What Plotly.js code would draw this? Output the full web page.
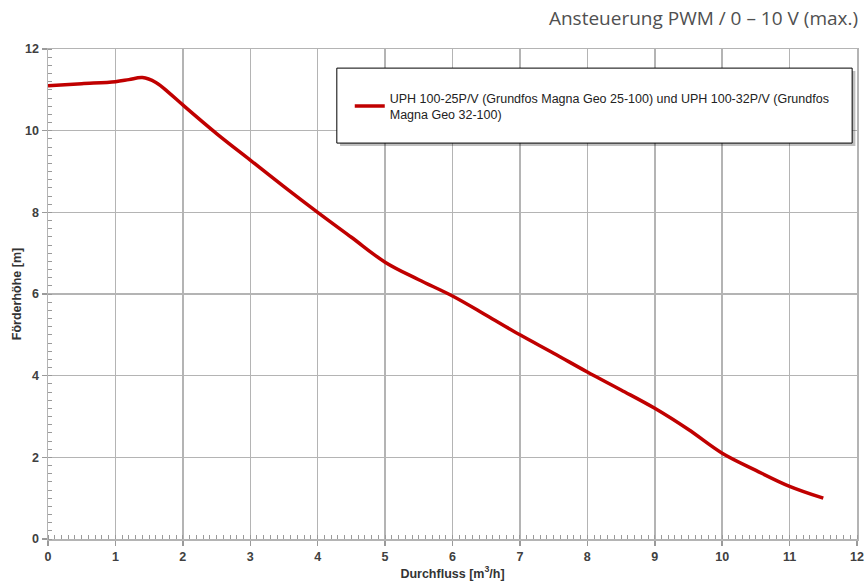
<!DOCTYPE html>
<html>
<head>
<meta charset="utf-8">
<script src="https://cdn.plot.ly/plotly-3.0.1.min.js"></script>
<style>html,body{margin:0;padding:0;background:#fff}#chart{width:865px;height:587px}</style>
</head>
<body>
<div id="chart"></div>
<script>
var flow = [0, 0.5, 1, 1.2, 1.4, 1.6, 1.8, 2, 2.5, 3, 3.5, 4, 4.5, 5, 5.5, 6, 6.5, 7, 7.5, 8, 8.5, 9, 9.5, 10, 10.5, 11, 11.5];
var head = [11.1, 11.15, 11.2, 11.25, 11.3, 11.18, 10.92, 10.63, 9.93, 9.28, 8.63, 8.0, 7.39, 6.78, 6.35, 5.95, 5.48, 5.0, 4.55, 4.09, 3.65, 3.2, 2.68, 2.1, 1.68, 1.29, 1.0];
var seriesName = 'UPH 100-25P/V (Grundfos Magna Geo 25-100) und UPH 100-32P/V (Grundfos<br>Magna Geo 32-100)';
var chartTitle = 'Ansteuerung PWM / 0 – 10 V (max.)';
var xTitle = 'Durchfluss [m<sup>3</sup>/h]';
var yTitle = 'Förderhöhe [m]';

var grid = '#b4b4b4';
var tickFont = {family: 'Liberation Sans, Arial, sans-serif', size: 12.5, color: '#404040', weight: 'bold'};
var axTitleFont = {family: 'Liberation Sans, Arial, sans-serif', size: 12.5, color: '#333', weight: 'bold'};

var trace = {
  x: flow, y: head, mode: 'lines', name: seriesName,
  line: {color: '#c00000', width: 3.5, shape: 'spline', smoothing: 1},
  showlegend: true
};

var layout = {
  width: 865, height: 587,
  margin: {l: 48, r: 8, t: 49, b: 48},
  paper_bgcolor: '#ffffff', plot_bgcolor: '#ffffff',
  title: {text: chartTitle, xref: 'container', x: 0.992, xanchor: 'right', yref: 'container', y: 0.969, yanchor: 'middle',
          font: {family: 'Open Sans, sans-serif', size: 19, color: '#505050'}},
  xaxis: {
    range: [0, 12], dtick: 1, tick0: 0, showgrid: true, gridcolor: grid, gridwidth: 1.5,
    showline: true, linecolor: grid, linewidth: 1.5, mirror: true, zeroline: false,
    ticks: 'outside', ticklen: 5, tickcolor: '#9a9a9a', tickwidth: 1.5,
    minor: {dtick: 0.1, ticks: 'inside', ticklen: 4, tickcolor: '#9a9a9a', tickwidth: 1, showgrid: false},
    tickfont: tickFont,
    title: {text: xTitle, font: axTitleFont, standoff: 6}
  },
  yaxis: {
    range: [0, 12], dtick: 2, tick0: 0, showgrid: true, gridcolor: grid, gridwidth: 1.5,
    showline: true, linecolor: grid, linewidth: 1.5, mirror: true, zeroline: false,
    ticks: 'outside', ticklen: 5, tickcolor: '#9a9a9a', tickwidth: 1.5,
    minor: {dtick: 0.2, ticks: 'inside', ticklen: 4, tickcolor: '#9a9a9a', tickwidth: 1, showgrid: false},
    tickfont: tickFont,
    title: {text: yTitle, font: axTitleFont, standoff: 0}
  },
  legend: {
    x: 0.373, y: 0.93, xanchor: 'left', yanchor: 'top',
    bgcolor: 'rgba(0,0,0,0)', borderwidth: 0,
    font: {family: 'Liberation Sans, Arial, sans-serif', size: 12.5, color: '#222'},
    itemwidth: 30
  },
  shapes: [
    {type: 'rect', xref: 'paper', yref: 'paper', x0: 0.361, x1: 0.998, y0: 0.802, y1: 0.955, line: {width: 0}, fillcolor: 'rgba(0,0,0,0.25)', layer: 'above'},
    {type: 'rect', xref: 'paper', yref: 'paper', x0: 0.357, x1: 0.994, y0: 0.808, y1: 0.961, line: {color: '#000', width: 1}, fillcolor: '#ffffff', layer: 'above'}
  ]
};

Plotly.newPlot('chart', [trace], layout, {displayModeBar: false, staticPlot: true});
</script>
</body>
</html>
